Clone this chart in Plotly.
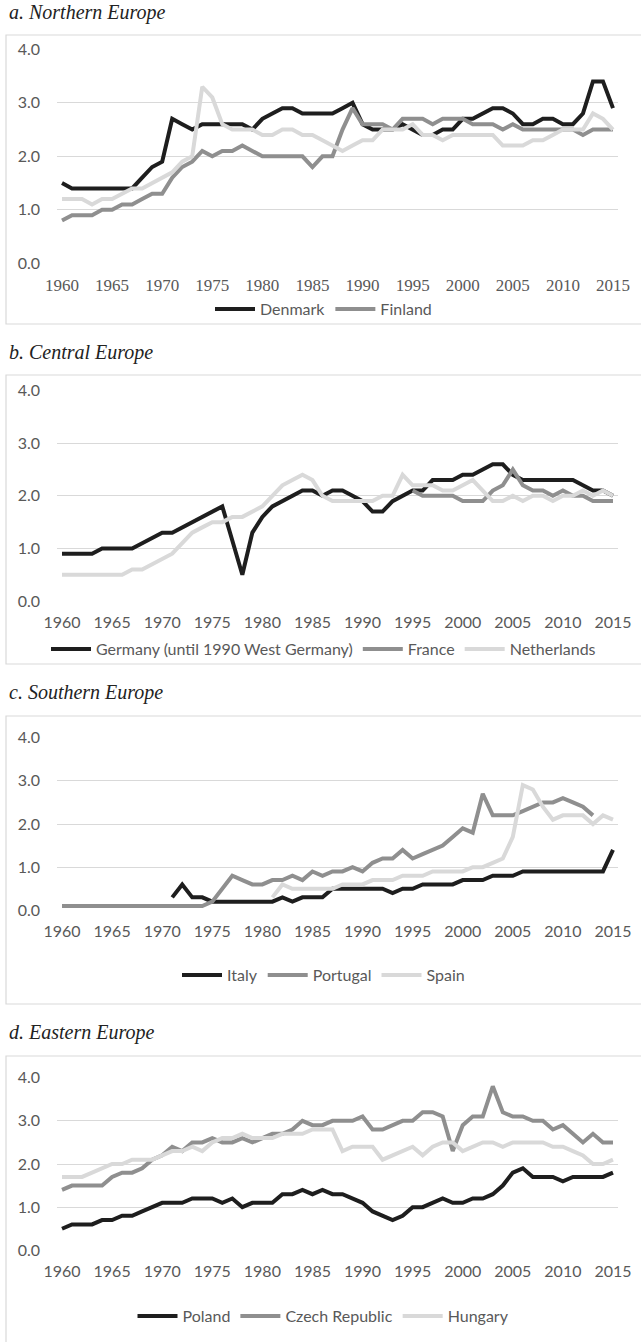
import plotly.graph_objects as go

W, H = 641, 1342

years = list(range(1960, 2016))
tick_years = [1960, 1965, 1970, 1975, 1980, 1985, 1990, 1995, 2000, 2005, 2010, 2015]
y_ticks = [0, 1, 2, 3, 4]

panel_titles = ["a. Northern Europe", "b. Central Europe", "c. Southern Europe", "d. Eastern Europe"]

# a. Northern Europe
denmark = [1.5, 1.4, 1.4, 1.4, 1.4, 1.4, 1.4, 1.4, 1.6, 1.8,
           1.9, 2.7, 2.6, 2.5, 2.6, 2.6, 2.6, 2.6, 2.6, 2.5,
           2.7, 2.8, 2.9, 2.9, 2.8, 2.8, 2.8, 2.8, 2.9, 3.0,
           2.6, 2.5, 2.5, 2.5, 2.6, 2.5, 2.4, 2.4, 2.5, 2.5,
           2.7, 2.7, 2.8, 2.9, 2.9, 2.8, 2.6, 2.6, 2.7, 2.7,
           2.6, 2.6, 2.8, 3.4, 3.4, 2.9]
finland = [0.8, 0.9, 0.9, 0.9, 1.0, 1.0, 1.1, 1.1, 1.2, 1.3,
           1.3, 1.6, 1.8, 1.9, 2.1, 2.0, 2.1, 2.1, 2.2, 2.1,
           2.0, 2.0, 2.0, 2.0, 2.0, 1.8, 2.0, 2.0, 2.5, 2.9,
           2.6, 2.6, 2.6, 2.5, 2.7, 2.7, 2.7, 2.6, 2.7, 2.7,
           2.7, 2.6, 2.6, 2.6, 2.5, 2.6, 2.5, 2.5, 2.5, 2.5,
           2.5, 2.5, 2.4, 2.5, 2.5, 2.5]
north_unlabeled = [1.2, 1.2, 1.2, 1.1, 1.2, 1.2, 1.3, 1.4, 1.4, 1.5,
                   1.6, 1.7, 1.9, 2.0, 3.3, 3.1, 2.6, 2.5, 2.5, 2.5,
                   2.4, 2.4, 2.5, 2.5, 2.4, 2.4, 2.3, 2.2, 2.1, 2.2,
                   2.3, 2.3, 2.5, 2.5, 2.5, 2.6, 2.4, 2.4, 2.3, 2.4,
                   2.4, 2.4, 2.4, 2.4, 2.2, 2.2, 2.2, 2.3, 2.3, 2.4,
                   2.5, 2.5, 2.5, 2.8, 2.7, 2.5]

# b. Central Europe
germany = [0.9, 0.9, 0.9, 0.9, 1.0, 1.0, 1.0, 1.0, 1.1, 1.2,
           1.3, 1.3, 1.4, 1.5, 1.6, 1.7, 1.8, 1.15, 0.5, 1.3,
           1.6, 1.8, 1.9, 2.0, 2.1, 2.1, 2.0, 2.1, 2.1, 2.0,
           1.9, 1.7, 1.7, 1.9, 2.0, 2.1, 2.1, 2.3, 2.3, 2.3,
           2.4, 2.4, 2.5, 2.6, 2.6, 2.4, 2.3, 2.3, 2.3, 2.3,
           2.3, 2.3, 2.2, 2.1, 2.1, 2.0]
france = [None, None, None, None, None, None, None, None, None, None,
          None, None, None, None, None, None, None, None, None, None,
          None, None, None, None, None, None, None, None, None, None,
          None, None, None, None, None, 2.1, 2.0, 2.0, 2.0, 2.0,
          1.9, 1.9, 1.9, 2.1, 2.2, 2.5, 2.2, 2.1, 2.1, 2.0,
          2.1, 2.0, 2.0, 1.9, 1.9, 1.9]
netherlands = [0.5, 0.5, 0.5, 0.5, 0.5, 0.5, 0.5, 0.6, 0.6, 0.7,
               0.8, 0.9, 1.1, 1.3, 1.4, 1.5, 1.5, 1.6, 1.6, 1.7,
               1.8, 2.0, 2.2, 2.3, 2.4, 2.3, 2.0, 1.9, 1.9, 1.9,
               1.9, 1.9, 2.0, 2.0, 2.4, 2.2, 2.2, 2.2, 2.1, 2.1,
               2.2, 2.3, 2.1, 1.9, 1.9, 2.0, 1.9, 2.0, 2.0, 1.9,
               2.0, 2.0, 2.1, 2.0, 2.1, 2.0]

# c. Southern Europe
italy = [None, None, None, None, None, None, None, None, None, None,
         None, 0.3, 0.6, 0.3, 0.3, 0.2, 0.2, 0.2, 0.2, 0.2,
         0.2, 0.2, 0.3, 0.2, 0.3, 0.3, 0.3, 0.5, 0.5, 0.5,
         0.5, 0.5, 0.5, 0.4, 0.5, 0.5, 0.6, 0.6, 0.6, 0.6,
         0.7, 0.7, 0.7, 0.8, 0.8, 0.8, 0.9, 0.9, 0.9, 0.9,
         0.9, 0.9, 0.9, 0.9, 0.9, 1.4]
portugal = [0.1, 0.1, 0.1, 0.1, 0.1, 0.1, 0.1, 0.1, 0.1, 0.1,
            0.1, 0.1, 0.1, 0.1, 0.1, 0.2, 0.5, 0.8, 0.7, 0.6,
            0.6, 0.7, 0.7, 0.8, 0.7, 0.9, 0.8, 0.9, 0.9, 1.0,
            0.9, 1.1, 1.2, 1.2, 1.4, 1.2, 1.3, 1.4, 1.5, 1.7,
            1.9, 1.8, 2.7, 2.2, 2.2, 2.2, 2.3, 2.4, 2.5, 2.5,
            2.6, 2.5, 2.4, 2.2, None, None]
spain = [None, None, None, None, None, None, None, None, None, None,
         None, None, None, None, None, None, None, None, None, None,
         None, 0.3, 0.6, 0.5, 0.5, 0.5, 0.5, 0.5, 0.6, 0.6,
         0.6, 0.7, 0.7, 0.7, 0.8, 0.8, 0.8, 0.9, 0.9, 0.9,
         0.9, 1.0, 1.0, 1.1, 1.2, 1.7, 2.9, 2.8, 2.4, 2.1,
         2.2, 2.2, 2.2, 2.0, 2.2, 2.1]

# d. Eastern Europe
poland = [0.5, 0.6, 0.6, 0.6, 0.7, 0.7, 0.8, 0.8, 0.9, 1.0,
          1.1, 1.1, 1.1, 1.2, 1.2, 1.2, 1.1, 1.2, 1.0, 1.1,
          1.1, 1.1, 1.3, 1.3, 1.4, 1.3, 1.4, 1.3, 1.3, 1.2,
          1.1, 0.9, 0.8, 0.7, 0.8, 1.0, 1.0, 1.1, 1.2, 1.1,
          1.1, 1.2, 1.2, 1.3, 1.5, 1.8, 1.9, 1.7, 1.7, 1.7,
          1.6, 1.7, 1.7, 1.7, 1.7, 1.8]
czech = [1.4, 1.5, 1.5, 1.5, 1.5, 1.7, 1.8, 1.8, 1.9, 2.1,
         2.2, 2.4, 2.3, 2.5, 2.5, 2.6, 2.5, 2.5, 2.6, 2.5,
         2.6, 2.7, 2.7, 2.8, 3.0, 2.9, 2.9, 3.0, 3.0, 3.0,
         3.1, 2.8, 2.8, 2.9, 3.0, 3.0, 3.2, 3.2, 3.1, 2.3,
         2.9, 3.1, 3.1, 3.8, 3.2, 3.1, 3.1, 3.0, 3.0, 2.8,
         2.9, 2.7, 2.5, 2.7, 2.5, 2.5]
hungary = [1.7, 1.7, 1.7, 1.8, 1.9, 2.0, 2.0, 2.1, 2.1, 2.1,
           2.2, 2.3, 2.3, 2.4, 2.3, 2.5, 2.6, 2.6, 2.7, 2.6,
           2.6, 2.6, 2.7, 2.7, 2.7, 2.8, 2.8, 2.8, 2.3, 2.4,
           2.4, 2.4, 2.1, 2.2, 2.3, 2.4, 2.2, 2.4, 2.5, 2.5,
           2.3, 2.4, 2.5, 2.5, 2.4, 2.5, 2.5, 2.5, 2.5, 2.4,
           2.4, 2.3, 2.2, 2.0, 2.0, 2.1]

BLACK, GRAY, LIGHT = "#1e1e1e", "#8f8f8f", "#d9d9d9"
GRID = "#d9d9d9"
TXT = "#595959"
SANS = "Lato"
SERIF = "Liberation Serif"


def py(p):
    return 1 - p / H


panels = [
    dict(series=[("Denmark", denmark, BLACK, True), ("Finland", finland, GRAY, True),
                 ("", north_unlabeled, LIGHT, False)],
         top=49.3, bot=263.3, btop=35, bbot=324, ty=13, ly=309, xfont=SERIF, xsize=17),
    dict(series=[("Germany (until 1990 West Germany)", germany, BLACK, True), ("France", france, GRAY, True),
                 ("Netherlands", netherlands, LIGHT, True)],
         top=390.7, bot=601, btop=375, bbot=664, ty=352, ly=649, xfont=SANS, xsize=16),
    dict(series=[("Italy", italy, BLACK, True), ("Portugal", portugal, GRAY, True),
                 ("Spain", spain, LIGHT, True)],
         top=737.7, bot=910.3, btop=716, bbot=1004, ty=692, ly=975, xfont=SANS, xsize=16),
    dict(series=[("Poland", poland, BLACK, True), ("Czech Republic", czech, GRAY, True),
                 ("Hungary", hungary, LIGHT, True)],
         top=1077.7, bot=1250.3, btop=1056, bbot=1350, ty=1032, ly=1316, xfont=SANS, xsize=16),
]

fig = go.Figure()
layout = dict(width=W, height=H, margin=dict(l=0, r=0, t=0, b=0, autoexpand=False),
              template="none",
              paper_bgcolor="white", plot_bgcolor="white", shapes=[], annotations=[])

for i, p in enumerate(panels):
    n = i + 1
    sfx = "" if n == 1 else str(n)
    leg = "legend" if n == 1 else f"legend{n}"
    for name, vals, color, show in p["series"]:
        fig.add_trace(go.Scatter(
            x=years, y=vals, name=name, mode="lines",
            line=dict(color=color, width=4),
            xaxis=f"x{sfx}", yaxis=f"y{sfx}",
            showlegend=show, legend=leg, connectgaps=False, hoverinfo="skip"))
    layout[f"xaxis{sfx}"] = dict(
        domain=[57 / W, 618 / W], anchor=f"y{sfx}", range=[1959.5, 2015.5],
        tickvals=tick_years, showgrid=False, zeroline=False, showline=False, ticks="",
        automargin=False,
        tickfont=dict(family=p["xfont"], size=p["xsize"], color=TXT), ticklabelstandoff=10)
    layout[f"yaxis{sfx}"] = dict(
        domain=[py(p["bot"]), py(p["top"])], anchor=f"x{sfx}", range=[0, 4],
        tickvals=y_ticks, tickformat=".1f", showgrid=True, gridcolor=GRID, gridwidth=1,
        zeroline=False, showline=False, ticks="", automargin=False,
        tickfont=dict(family=SANS, size=16, color=TXT), ticklabelstandoff=16)
    layout[leg] = dict(
        orientation="h", x=(6 + W) / 2 / W, xanchor="center", y=py(p["ly"]), yanchor="middle",
        font=dict(family=SANS, size=16, color=TXT), bgcolor="rgba(0,0,0,0)",
        itemwidth=40, traceorder="normal")
    layout["shapes"].append(dict(
        type="rect", xref="paper", yref="paper", x0=6 / W, x1=(W + 5) / W,
        y0=py(p["bbot"]), y1=py(p["btop"]), line=dict(color="#d9d9d9", width=1.2),
        fillcolor="rgba(0,0,0,0)", layer="below"))
    layout["annotations"].append(dict(
        text=f"<i>{panel_titles[i]}</i>", xref="paper", yref="paper",
        x=7 / W, y=py(p["ty"]), xanchor="left", yanchor="middle", showarrow=False,
        font=dict(family=SERIF, size=20, color="#222222")))

fig.update_layout(**layout)
fig.write_html(
    "out.html",
    config={"displayModeBar": False},
    post_script="document.body.style.margin='0';document.body.style.overflow='hidden';"
                "document.documentElement.style.overflow='hidden';")
